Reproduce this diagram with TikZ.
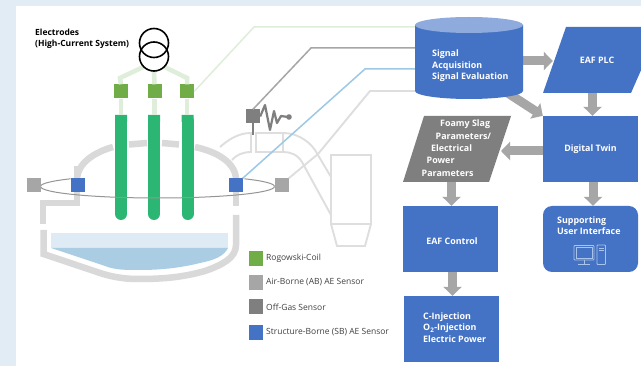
\documentclass[tikz,border=0pt]{standalone}
\usepackage{fontspec}
\setmainfont{Open Sans}
\usetikzlibrary{arrows.meta}
\definecolor{bgblue}{HTML}{E1ECF4}
\definecolor{eafblue}{HTML}{4472C4}
\definecolor{toplight}{HTML}{8FAADC}
\definecolor{rogo}{HTML}{70AD47}
\definecolor{rogolight}{HTML}{DFEEDA}
\definecolor{electrode}{HTML}{2BB673}
\definecolor{airgray}{HTML}{A6A6A6}
\definecolor{offgray}{HTML}{7F7F7F}
\definecolor{wallgray}{HTML}{D9D9D9}
\definecolor{ductgray}{HTML}{DEDEDE}
\definecolor{skyline}{HTML}{9DC8E6}
\definecolor{bathlight}{HTML}{DEEBF5}
\definecolor{bathdark}{HTML}{ABCDE4}
\definecolor{iconline}{HTML}{A9C4EB}
\newcommand{\boxfont}{\fontsize{8.9}{11.4}\selectfont\bfseries}
\tikzset{
  sq/.style={minimum size=14pt,inner sep=0pt,anchor=center},
  rogosq/.style={sq,fill=rogo},
  airsq/.style={sq,fill=airgray},
  offsq/.style={sq,fill=offgray},
  sbsq/.style={sq,fill=eafblue},
  bluebox/.style={fill=eafblue,minimum width=95pt,minimum height=66pt,inner sep=0pt,text=white,font=\boxfont},
  ghost/.style={minimum width=#1,minimum height=66pt,inner sep=0pt,text=white,font=\boxfont},
  boxtext/.style={anchor=west,inner sep=0pt,text=white,align=left,font=\boxfont},
  flow/.style={draw=airgray,line width=9pt,-{Triangle[length=9pt,width=18pt]}},
  wall/.style={draw=wallgray,line width=6.5pt},
  duct/.style={draw=ductgray,line width=1.9pt},
  feed/.style={line width=4.5pt,draw=rogolight},
  sig/.style={line width=1.5pt},
  legend/.style={anchor=west,inner sep=0pt,font=\fontsize{8.5}{10}\selectfont,text=black!75},
  elec/.style={line width=12pt,draw=electrode},
}
\begin{document}
\begin{tikzpicture}[x=1pt,y=-1pt]
\useasboundingbox (0,0) rectangle (641,366);
\fill[bgblue] (0,0) rectangle (641,366);
\fill[white] (16,6) rectangle (641,366);
\clip (0,0) rectangle (641,366);

% bath
\fill[bathlight] (51,233) rectangle (228,248);
\fill[bathdark] (51,248) -- (228,248) .. controls (224,256) and (215,260) .. (200,263) .. controls (180,268) and (160,270) .. (140,270) .. controls (125,270) and (115,270) .. (105,266) -- cycle;

% furnace walls
\draw[wall] (77,166) -- (77,178);
\draw[wall] (77,180) .. controls (77,163) and (95,152) .. (113,147);
\draw[wall] (129,144.5) -- (147,143);
\draw[wall] (162,143) -- (179,144.5);
\draw[wall] (195,147) .. controls (218,152) and (236,163) .. (236,180);
\draw[wall] (77,192) -- (77,203) -- (43,203) -- (43,224);
\draw[wall] (236,192) -- (236,206);
\draw[wall] (236,215) -- (236,245) .. controls (236,258) and (222,265) .. (205,271) .. controls (180,278) and (160,279) .. (137,279) .. controls (125,279) and (112,277) .. (100,273) -- (43.5,254) -- (43.5,230);

% duct and chamber
\draw[duct] (220,147) .. controls (228,140) and (238,133) .. (251,133) -- (251,152) .. controls (243,152) and (236,155) .. (232,160);
\draw[duct] (256,133) rectangle (283,152);
\draw[duct] (283,133) .. controls (296,133) and (308,140) .. (315,150) -- (331,177);
\draw[duct] (283,152) .. controls (290,152) and (297,154) .. (302,162) -- (331,215);
\draw[duct] (331,155) rectangle (371,224);
\draw[duct] (331,224) -- (337,246) -- (365,246) -- (371,224);

% electrodes
\draw[elec,line cap=round] (121,121) -- (121,214);
\draw[elec,line cap=round] (154,121) -- (154,214);
\draw[elec,line cap=round] (187.5,121) -- (187.5,214);
\fill[electrode] (115,115) rectangle (127,122) (148,115) rectangle (160,122) (181.5,115) rectangle (193.5,122);

% ring
\draw[draw=airgray!90!black,line width=1pt] (40.5,186.5) arc[start angle=180,end angle=0,x radius=117,y radius=11.5];
\draw[draw=airgray!90!black,line width=1pt] (40.5,186.5) arc[start angle=180,end angle=222,x radius=117,y radius=11.5];
\draw[draw=airgray!90!black,line width=1pt] (274.5,186.5) arc[start angle=0,end angle=-42,x radius=117,y radius=11.5];

% sensors
\node[rogosq] (rl) at (121,91.5) {};
\node[rogosq] (rm) at (154.5,91.5) {};
\node[rogosq] (rr) at (187,91.5) {};
\node[airsq] (abl) at (33.5,185.5) {};
\node[airsq] (abr) at (281.5,185.5) {};
\node[sbsq] (sbl) at (77.5,185.5) {};
\node[sbsq] (sbr) at (235.5,185.5) {};
\node[offsq] (og) at (253,116.5) {};
\coordinate (ogstem) at (253,135);
\draw[draw=offgray,line width=1.6pt] (og.center) -- (ogstem);
\draw[draw=offgray,line width=2.2pt,line join=round] (og.east) -- (265,105) -- (270,130) -- (274,111) -- (277,123) -- (281,116) -- (288,117);
\fill[offgray] (289,117) circle (2.8);

% central database anchor
\node[ghost=108pt,minimum height=82pt] (cyl) at (469,58) {};

% signal lines
\coordinate (g1) at (254,27);
\coordinate (g2) at (311,48);
\coordinate (g3) at (365,69);
\coordinate (g4) at (370,91);
\coordinate (dj) at (318,154);
\draw[sig,draw=rogolight] (rr.east) -- (g1) -- (g1 -| cyl.west);
\draw[sig,draw=airgray] (og.north) -- (g2) -- (g2 -| cyl.west);
\draw[sig,draw=skyline] (sbr.north east) -- (g3) -- (g3 -| cyl.west);
\draw[duct] (abr.north east) -- (dj) -- (g4) -- (g4 -| cyl.west);

% transformer + feeds
\node[circle,minimum size=29pt,inner sep=0pt] (t2) at (154,56.5) {};
\draw[feed] (t2.south) -- (rm.north);
\draw[feed] (rm.south) -- (154.5,115);
\draw[feed] (t2.south west) -- (120,78) -- (rl.north);
\draw[feed] (rl.south) -- (121,115);
\draw[feed] (t2.south east) -- (187,78) -- (rr.north);
\draw[feed] (rr.south) -- (187,115);
\node[draw=black,line width=1.6pt,circle,minimum size=29pt,inner sep=0pt] (t1) at (154,43) {};
\node[draw=black,line width=1.6pt,circle,minimum size=29pt,inner sep=0pt] at (t2) {};
\node[anchor=west,inner sep=0pt,align=left,font=\fontsize{8.5}{11}\selectfont\bfseries] (eltext) at (35,39) {Electrodes\\(High-Current System)};

% PLC
\fill[eafblue] (566,27) -- (660,27) -- (631,93) -- (543,93) -- cycle;
\node[ghost=88pt] (plc) at (597,60) {EAF PLC};
% twin
\node[bluebox] (twin) at (590.5,149) {Digital Twin};
% foamy
\fill[offgray] (424,116) -- (511,116) -- (489,182) -- (403,182) -- cycle;
\node[ghost=88pt] (foamy) at (457,149) {};
\node[boxtext] (f1) at (440,124) {Foamy Slag};
\node[boxtext] (f2) at (435.5,136) {Parameters/};
\node[boxtext] (f3) at (431,148) {Electrical};
\node[boxtext] (f4) at (426.5,160.5) {Power};
\node[boxtext] (f5) at (421.5,173) {Parameters};
% control
\node[bluebox,text depth=-2pt] (ctrl) at (450.5,239) {};
\node[boxtext,anchor=center] (ctrltext) at (452,241) {EAF Control};
\node[bluebox] (inj) at (451.5,329) {};
\node[boxtext] (injtext) at (423,327.5) {C-Injection\\O\textsubscript{2}-Injection\\Electric Power};
% support
\node[bluebox,rounded corners=9pt] (ui) at (590.5,239) {};
\node[boxtext] (uitext) at (557,225.5) {Supporting\\User Interface};
\draw[iconline,line width=0.9pt,rounded corners=0.8pt] (574,245.5) rectangle (594,260);
\draw[iconline,line width=0.7pt] (576,247.5) rectangle (592,258);
\draw[iconline,line width=0.9pt] (584,260) -- (584,264) (578,264.5) -- (590,264.5);
\draw[iconline,line width=0.9pt,rounded corners=0.8pt] (597,245) rectangle (605.5,264.5);
\draw[iconline,line width=0.6pt] (599,248) -- (603.5,248) (599,250.5) -- (603.5,250.5);

% flow arrows
\draw[flow] (cyl.east |- 0,61) -- (plc.west |- 0,61);
\draw[flow] (592.5,93) -- (twin.north -| 592.5,0);
\draw[flow] (500,88) -- (twin.north west);
\draw[flow] (twin.west |- 0,151) -- (501,151);
\draw[flow] (451.5,182) -- (ctrl.north -| 451.5,0);
\draw[flow] (593,182) -- (ui.north -| 593,0);
\draw[flow] (ctrl.south -| 452.5,0) -- (inj.north -| 452.5,0);

% cylinder over the arrow tail
\fill[eafblue] (415,25) -- (415,91) arc[start angle=180,end angle=0,x radius=54,y radius=8] -- (523,25) -- cycle;
\fill[toplight] (469,25) ellipse[x radius=54,y radius=8];
\node[boxtext] (cyltext) at (432,66) {Signal\\Acquisition\\Signal Evaluation};

% legend
\node[rogosq,minimum width=14pt,minimum height=15pt] (l1) at (256,258.5) {};
\node[airsq,minimum width=14pt,minimum height=15pt] (l2) at (256,282.5) {};
\node[offsq,minimum width=14pt,minimum height=15pt] (l3) at (256,306.5) {};
\node[sbsq,minimum width=14pt,minimum height=15pt] (l4) at (256,332.5) {};
\node[legend] (lt1) at (266,258) {Rogowski-Coil};
\node[legend] (lt2) at (266,282.5) {Air-Borne (AB) AE Sensor};
\node[legend] (lt3) at (266,307) {Off-Gas Sensor};
\node[legend] (lt4) at (266,332) {Structure-Borne (SB) AE Sensor};
\end{tikzpicture}
\end{document}
